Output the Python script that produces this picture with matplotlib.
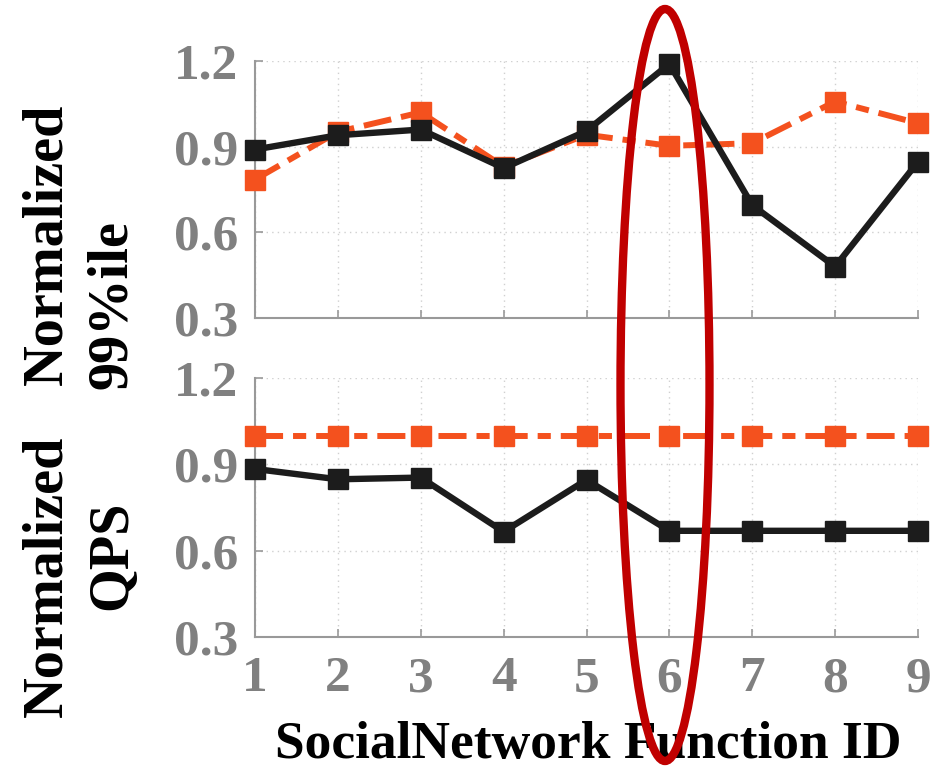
import matplotlib
matplotlib.use("Agg")
import matplotlib.pyplot as plt
from matplotlib.patches import Ellipse

func_ids = [1, 2, 3, 4, 5, 6, 7, 8, 9]
lat_black = [0.89, 0.94, 0.96, 0.825, 0.955, 1.19, 0.695, 0.48, 0.847]
lat_orange = [0.785, 0.952, 1.02, 0.83, 0.942, 0.903, 0.912, 1.058, 0.982]
qps_black = [0.884, 0.848, 0.854, 0.666, 0.846, 0.669, 0.669, 0.669, 0.669]
qps_orange = [1.0, 1.0, 1.0, 1.0, 1.0, 1.0, 1.0, 1.0, 1.0]
yticks = [0.3, 0.6, 0.9, 1.2]
ytick_labels = ["0.3", "0.6", "0.9", "1.2"]

plt.rcParams['font.family'] = ['Liberation Serif', 'DejaVu Serif']
plt.rcParams['font.weight'] = 'bold'

W, H = 938, 771
fig = plt.figure(figsize=(W / 100, H / 100), dpi=100)

BLACK = '#1c1c1c'
ORANGE = '#f4511e'
GRAY = '#808080'
TICKFS = 37

def fx(px):
    return px / W

def fy(py):
    return 1 - py / H

ax1 = fig.add_axes([fx(255), fy(318), fx(918) - fx(255), fy(61) - fy(318)])
ax2 = fig.add_axes([fx(255), fy(637), fx(918) - fx(255), fy(378) - fy(637)])

dash = (0, (4.7, 1.67, 2.2, 1.67))
for ax, b, o in [(ax1, lat_black, lat_orange), (ax2, qps_black, qps_orange)]:
    ax.plot(func_ids, o, color=ORANGE, lw=4.3, linestyle=dash, marker='s',
            ms=14.5, mfc=ORANGE, mec=ORANGE, zorder=3, clip_on=False)
    ax.plot(func_ids, b, color=BLACK, lw=4.6, linestyle='-', marker='s',
            ms=14.5, mfc=BLACK, mec=BLACK, zorder=4, clip_on=False)
    ax.set_xlim(1, 9)
    ax.set_ylim(0.3, 1.2)
    ax.set_yticks(yticks)
    ax.set_yticklabels(ytick_labels)
    ax.set_xticks(func_ids)
    ax.grid(True, linestyle=(0, (1, 3)), color='#d0d0d0', lw=1.0)
    ax.set_axisbelow(True)
    for s in ['top', 'right']:
        ax.spines[s].set_visible(False)
    for s in ['left', 'bottom']:
        ax.spines[s].set_color('#999999')
        ax.spines[s].set_linewidth(1.5)
    ax.tick_params(direction='in', length=6, width=1.2, color='#999999',
                   labelsize=TICKFS, labelcolor=GRAY, pad=12)
    for lab in ax.get_xticklabels() + ax.get_yticklabels():
        lab.set_fontweight('bold')

ax1.tick_params(axis='x', labelbottom=False)
ax2.tick_params(axis='x', pad=14)

fig.text(fx(588), fy(745), 'SocialNetwork Function ID', ha='center', va='center',
         fontsize=38.5, fontweight='bold', color='black')

LFS = 40.5
fig.text(fx(47), fy(385), 'Normalized', rotation=90, ha='center', va='bottom',
         fontsize=LFS, fontweight='bold')
fig.text(fx(112), fy(389), '99%ile', rotation=90, ha='center', va='bottom',
         fontsize=LFS, fontweight='bold')
fig.text(fx(47), fy(717), 'Normalized', rotation=90, ha='center', va='bottom',
         fontsize=LFS, fontweight='bold')
fig.text(fx(112), fy(555), 'QPS', rotation=90, ha='center', va='center',
         fontsize=LFS, fontweight='bold')

ell = Ellipse((fx(665), fy(385)), fx(89), 752 / H, transform=fig.transFigure,
              fill=False, edgecolor='#c00000', lw=6, zorder=10)
fig.patches.append(ell)

fig.savefig('out.png', dpi=100)
